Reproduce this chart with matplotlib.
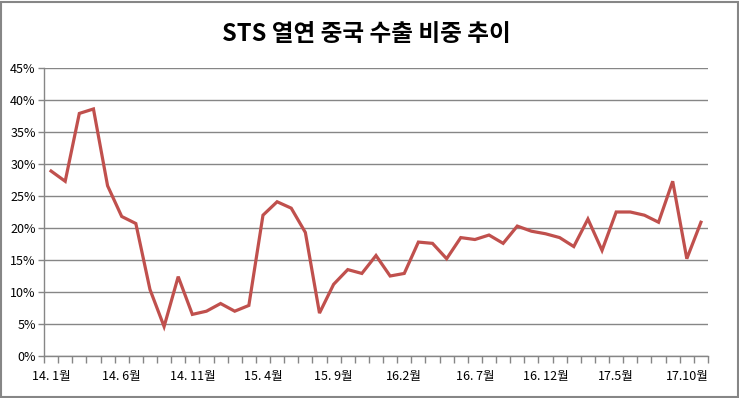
import matplotlib
matplotlib.use('Agg')
import matplotlib.pyplot as plt
from matplotlib.patches import Rectangle
from matplotlib.ticker import FuncFormatter, FixedLocator

plt.rcParams['font.family'] = ['Noto Sans CJK KR', 'DejaVu Sans']

# monthly share of STS hot-rolled exports going to China, 2014.1 ~ 2017.11
share = [28.9, 27.3, 37.9, 38.6, 26.6, 21.8, 20.7, 10.4, 4.6, 12.4,
         6.5, 7.0, 8.2, 7.0, 7.9, 22.0, 24.1, 23.1, 19.3, 6.7,
         11.2, 13.5, 12.9, 15.7, 12.5, 12.9, 17.8, 17.6, 15.2, 18.5,
         18.2, 18.9, 17.6, 20.3, 19.5, 19.1, 18.5, 17.1, 21.4, 16.5,
         22.5, 22.5, 22.0, 20.9, 27.3, 15.2, 20.9]
label_pos = [0, 5, 10, 15, 20, 25, 30, 35, 40, 45]
label_txt = ['14. 1월', '14. 6월', '14. 11월', '15. 4월', '15. 9월',
             '16.2월', '16. 7월', '16. 12월', '17.5월', '17.10월']
y_ticks = [0, 5, 10, 15, 20, 25, 30, 35, 40, 45]

W, H = 739, 398
fig = plt.figure(figsize=(W / 100, H / 100), dpi=100)
ax = fig.add_axes([44 / W, (H - 356) / H, 664 / W, (356 - 68) / H])

x = list(range(len(share)))
ax.plot(x, share, color='#C0504D', linewidth=2.3, solid_joinstyle='miter', zorder=3)

ax.set_xlim(-0.5, len(share) - 0.5)
ax.set_ylim(0, 45)

# category ticks between points, labels every 5 months
ax.xaxis.set_major_locator(FixedLocator(label_pos))
ax.set_xticklabels(label_txt, fontsize=9)
ax.xaxis.set_minor_locator(FixedLocator([i - 0.5 for i in range(len(share) + 1)]))
ax.tick_params(axis='x', which='major', length=0, pad=10)
ax.tick_params(axis='x', which='minor', length=5, width=1, color='#868686', direction='out')

ax.set_yticks(y_ticks)
ax.yaxis.set_major_formatter(FuncFormatter(lambda v, p: f'{v:.0f}%'))
ax.tick_params(axis='y', length=4, width=1, color='#868686', labelsize=9, pad=2)

ax.grid(True, axis='y', color='#868686', linewidth=1)
ax.set_axisbelow(True)
for s in ['top', 'right']:
    ax.spines[s].set_visible(False)
for s in ['left', 'bottom']:
    ax.spines[s].set_color('#868686')
    ax.spines[s].set_linewidth(1)

fig.text(366 / W, 1 - 34 / H, 'STS 열연 중국 수출 비중 추이', ha='center', va='center',
         fontsize=17, fontweight='bold')

# outer chart frame
fig.patches.append(Rectangle((1 / W, 1 / H), (W - 2.5) / W, (H - 2.5) / H,
                             transform=fig.transFigure, fill=False,
                             edgecolor='#868686', linewidth=1.5))

fig.savefig('out.png', dpi=100)
